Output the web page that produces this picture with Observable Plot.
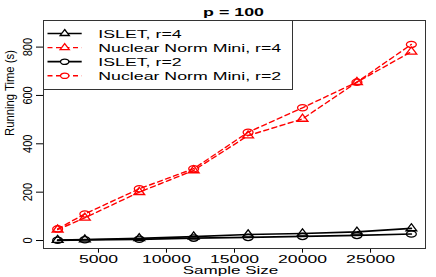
<!DOCTYPE html>
<html>
<head>
<meta charset="utf-8">
<script src="https://cdn.jsdelivr.net/npm/d3@7"></script>
<script src="https://cdn.jsdelivr.net/npm/@observablehq/plot@0.6"></script>
<style>
  html, body { margin: 0; padding: 0; background: #fff; }
  #chart { position: relative; width: 436px; height: 277px; }
</style>
</head>
<body>
<div id="chart"></div>
<script>
// ---- data ----
const sampleSizes = [2000, 4000, 8000, 12000, 16000, 20000, 24000, 28000];
const isletR4 = [2, 4, 9, 16, 25, 29, 36, 50];
const nuclearR4 = [45, 94, 200, 290, 434, 503, 655, 781];
const isletR2 = [1, 3, 5, 10, 13, 17, 21, 27];
const nuclearR2 = [48, 110, 214, 297, 448, 549, 655, 811];

const seriesNames = ["ISLET, r=4", "Nuclear Norm Mini, r=4", "ISLET, r=2", "Nuclear Norm Mini, r=2"];
const seriesColors = ["black", "#ff0000", "black", "#ff0000"];
const seriesDashed = [false, true, false, true];
const seriesSymbols = ["triangle", "triangle", "circle", "circle"];

const xTicks = [5000, 10000, 15000, 20000, 25000];
const yTicks = [0, 200, 400, 600, 800];
const titleText = ["p = 100"];
const xLabel = ["Sample Size"];
const yLabel = ["Running Time (s)"];

// ---- symbols (the reference is horizontally stretched) ----
const tri = {draw(ctx, size) {
  const r = Math.sqrt(size / Math.PI);
  const hw = r * 1.2, top = -r * 1.05, bot = r * 0.52;
  ctx.moveTo(0, top); ctx.lineTo(hw, bot); ctx.lineTo(-hw, bot); ctx.closePath();
}};
const ell = {draw(ctx, size) {
  const r = Math.sqrt(size / Math.PI);
  const rx = r * 1.1, ry = r * 0.7, k = 0.5523;
  ctx.moveTo(rx, 0);
  ctx.bezierCurveTo(rx, ry * k, rx * k, ry, 0, ry);
  ctx.bezierCurveTo(-rx * k, ry, -rx, ry * k, -rx, 0);
  ctx.bezierCurveTo(-rx, -ry * k, -rx * k, -ry, 0, -ry);
  ctx.bezierCurveTo(rx * k, -ry, rx, -ry * k, rx, 0);
  ctx.closePath();
}};
const symbolFor = s => s === "triangle" ? tri : ell;

const allValues = [isletR4, nuclearR4, isletR2, nuclearR2];
const seriesData = allValues.map((vals, i) =>
  sampleSizes.map((x, j) => ({x, y: vals[j], series: seriesNames[i]})));

const marks = [];
seriesData.forEach((rows, i) => {
  marks.push(Plot.line(rows, {
    x: "x", y: "y", stroke: seriesColors[i],
    strokeWidth: seriesDashed[i] ? 1.4 : 1.7,
    strokeDasharray: seriesDashed[i] ? "5,3.5" : null
  }));
  marks.push(Plot.dot(rows, {
    x: "x", y: "y", r: 4.5, symbol: symbolFor(seriesSymbols[i]),
    stroke: seriesColors[i], fill: "none", strokeWidth: 1.3
  }));
});

const plot = Plot.plot({
  width: 436,
  height: 277,
  marginLeft: 43,
  marginRight: 11,
  marginTop: 20,
  marginBottom: 29,
  style: {fontFamily: "'Liberation Sans', Arial, sans-serif", fontSize: "11px", color: "black", background: "white"},
  x: {domain: [960, 29040], label: null},
  y: {domain: [-33, 910], label: null},
  marks: [
    Plot.axisX({ticks: xTicks, tickSize: 4.7, tickPadding: 1.6, tickFormat: d => String(d), label: null, fontSize: 11}),
    Plot.axisY({ticks: yTicks, tickSize: 7, tickFormat: () => "", label: null}),
    Plot.text(yTicks, {y: d => d, text: d => String(d), frameAnchor: "left", rotate: -90,
      textAnchor: "middle", lineAnchor: "bottom", dx: -12.3, fontSize: 11}),
    ...marks,
    Plot.frame({stroke: "#333", strokeWidth: 1}),
    Plot.text(titleText, {text: d => d, frameAnchor: "top", lineAnchor: "bottom", dy: -5, dx: -1, fontWeight: "bold", fontSize: 11}),
    Plot.text(xLabel, {text: d => d, frameAnchor: "bottom", lineAnchor: "bottom", dy: 25.3, dx: -4, fontSize: 10.8}),
    Plot.text(yLabel, {text: d => d, frameAnchor: "left", lineAnchor: "bottom", rotate: -90, dx: -29.7, dy: 1.5, fontSize: 11.3})
  ]
});

document.getElementById("chart").appendChild(plot);

// horizontally stretch text about its own centre, as in the reference
const stretchFor = new Map();
xTicks.forEach(v => stretchFor.set(String(v), 1.6));
yTicks.forEach(v => stretchFor.set(String(v), 1.15));
titleText.forEach(v => stretchFor.set(v, 1.62));
xLabel.forEach(v => stretchFor.set(v, 1.58));
yLabel.forEach(v => stretchFor.set(v, 1.15));

Array.from(plot.querySelectorAll("text")).forEach(t => {
  const sx = stretchFor.get(t.textContent);
  if (!sx) return;
  const parent = t.parentNode;
  const r = t.getBoundingClientRect();
  if (r.width === 0) return;
  const pt = plot.createSVGPoint();
  pt.x = r.left + r.width / 2; pt.y = r.top + r.height / 2;
  const local = pt.matrixTransform(parent.getScreenCTM().inverse());
  const g = document.createElementNS("http://www.w3.org/2000/svg", "g");
  g.setAttribute("transform", `translate(${local.x},0) scale(${sx},1) translate(${-local.x},0)`);
  parent.insertBefore(g, t);
  g.appendChild(t);
});

// legend (drawn into the same SVG)
const svg = d3.select(plot);
const lg = svg.append("g").attr("class", "legend").attr("text-anchor", "start");
lg.append("rect").attr("x", 43.5).attr("y", 20.5).attr("width", 249).attr("height", 69)
  .attr("fill", "white").attr("stroke", "#333").attr("stroke-width", 1);
seriesNames.forEach((name, i) => {
  const cy = 33.5 + i * 14.1;
  lg.append("line").attr("x1", 47.5).attr("x2", 81.7).attr("y1", cy).attr("y2", cy)
    .attr("stroke", seriesColors[i]).attr("stroke-width", seriesDashed[i] ? 1.4 : 1.7)
    .attr("stroke-dasharray", seriesDashed[i] ? "5,3.5" : null);
  lg.append("path").attr("transform", `translate(64.7,${cy})`)
    .attr("d", d3.symbol(symbolFor(seriesSymbols[i]), Math.PI * 3.8 * 3.8)())
    .attr("fill", "white").attr("stroke", seriesColors[i]).attr("stroke-width", 1.3);
  lg.append("text").attr("transform", `translate(98.3,${cy + 4.1}) scale(1.53,1)`)
    .attr("text-anchor", "start")
    .attr("font-size", 11.6).attr("fill", "black").text(name);
});
</script>
</body>
</html>
